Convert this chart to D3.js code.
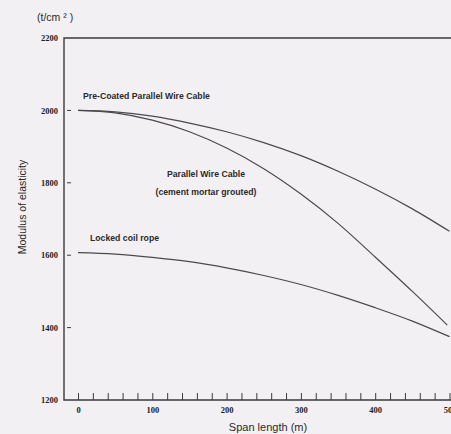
<!DOCTYPE html>
<html>
<head>
<meta charset="utf-8">
<script src="https://cdn.jsdelivr.net/npm/d3@7"></script>
<style>
  body { margin: 0; background: #f3f0f4; }
  svg { display: block; }
</style>
</head>
<body>
<svg></svg>
<script>
let width = 451;
let height = 434;

// span length (m)
let spans = [0, 50, 100, 150, 200, 250, 300, 350, 400, 450, 500];
let preCoated = [2000, 1996, 1984, 1965, 1941, 1911, 1875, 1832, 1783, 1728, 1666];
let lockedCoil = [1607, 1603, 1594, 1582, 1565, 1544, 1519, 1489, 1455, 1418, 1375];
let groutedSpans = [0, 50, 100, 150, 200, 250, 300, 350, 400, 450, 497];
let grouted = [2000, 1993, 1973, 1941, 1896, 1839, 1769, 1688, 1595, 1500, 1407];

let xTicks = [0, 100, 200, 300, 400, 500];
let yTicks = [1200, 1400, 1600, 1800, 2000, 2200];

let svg = d3.select('svg').attr('width', width).attr('height', height);

let axisLeftX = 64, plotTop = 38, plotBottom = 400;

let x = d3.scaleLinear().domain([0, 500]).range([78, 449.5]);
let y = d3.scaleLinear().domain([1200, 2200]).range([plotBottom, plotTop]);

let ink = '#3a3a3c';

// frame: left, top, bottom
svg.append('path')
  .attr('d', `M${width},${plotTop}H${axisLeftX}V${plotBottom}H${width}`)
  .attr('fill', 'none')
  .attr('stroke', ink)
  .attr('stroke-width', 1.4);

// x ticks (every 20 m, pointing up)
let xAxis = svg.append('g')
  .attr('transform', `translate(0,${plotBottom})`)
  .call(d3.axisBottom(x)
    .tickValues(d3.range(0, 501, 20))
    .tickSize(-7)
    .tickPadding(7)
    .tickFormat((d) => (xTicks.includes(d) ? d : '')));
xAxis.select('.domain').remove();
xAxis.selectAll('line').attr('stroke', ink).attr('stroke-width', 1);
xAxis.selectAll('text')
  .attr('fill', '#222')
  .style('font', 'bold 8.5px "Liberation Serif", serif');

// y labels
let yAxis = svg.append('g')
  .attr('transform', `translate(${axisLeftX},0)`)
  .call(d3.axisLeft(y).tickValues(yTicks).tickSize(0).tickPadding(6).tickFormat(d3.format('d')));
yAxis.select('.domain').remove();
yAxis.selectAll('text')
  .attr('fill', '#222')
  .style('font', 'bold 8.5px "Liberation Serif", serif');

// small y dashes inside the frame
svg.selectAll('.ydash')
  .data(yTicks.filter((d) => d > 1200 && d < 2200))
  .enter()
  .append('line')
  .attr('x1', axisLeftX + 3)
  .attr('x2', axisLeftX + 7)
  .attr('y1', (d) => y(d))
  .attr('y2', (d) => y(d))
  .attr('stroke', ink)
  .attr('stroke-width', 1);

// curves
let line = d3.line()
  .x((d) => x(d[0]))
  .y((d) => y(d[1]))
  .curve(d3.curveMonotoneX);

let series = [
  d3.zip(spans, preCoated),
  d3.zip(groutedSpans, grouted),
  d3.zip(spans, lockedCoil),
];

svg.selectAll('.curve')
  .data(series)
  .enter()
  .append('path')
  .attr('d', line)
  .attr('fill', 'none')
  .attr('stroke', '#4a4a4e')
  .attr('stroke-width', 1.2);

// curve labels
let labelFont = 'bold 8.7px "Liberation Sans", Arial, sans-serif';
let labels = [
  { text: 'Pre-Coated Parallel Wire Cable', x: 83, y: 99, anchor: 'start' },
  { text: 'Parallel Wire Cable', x: 206, y: 177, anchor: 'middle' },
  { text: '(cement mortar grouted)', x: 206, y: 195, anchor: 'middle' },
  { text: 'Locked coil rope', x: 90, y: 241, anchor: 'start' },
];
svg.selectAll('.lbl')
  .data(labels)
  .enter()
  .append('text')
  .attr('x', (d) => d.x)
  .attr('y', (d) => d.y)
  .attr('text-anchor', (d) => d.anchor)
  .attr('fill', '#2a2a2a')
  .style('font', labelFont)
  .text((d) => d.text);

// unit
svg.append('text')
  .attr('x', 37)
  .attr('y', 21)
  .attr('fill', '#2a2a2a')
  .style('font', '10.5px "Liberation Sans", Arial, sans-serif')
  .text('(t/cm ² )');

// axis titles
svg.append('text')
  .attr('x', 268)
  .attr('y', 431)
  .attr('text-anchor', 'middle')
  .attr('fill', '#2a2a2a')
  .style('font', '11px "Liberation Sans", Arial, sans-serif')
  .text('Span length (m)');

svg.append('text')
  .attr('transform', 'translate(26,207) rotate(-90)')
  .attr('text-anchor', 'middle')
  .attr('fill', '#2a2a2a')
  .style('font', '10.5px "Liberation Sans", Arial, sans-serif')
  .text('Modulus of elasticity');
</script>
</body>
</html>
